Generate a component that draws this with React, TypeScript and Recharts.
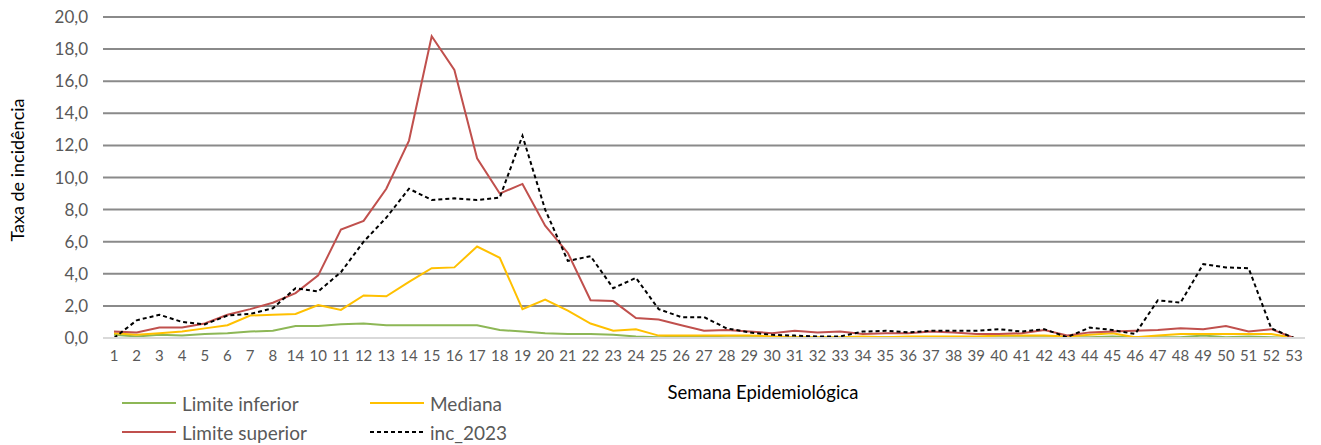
import { CartesianGrid, Line, LineChart, XAxis, YAxis } from "recharts"

// labels exactly as in the source (note the 9th reads "14")
const weekLabels = [
  "1", "2", "3", "4", "5", "6", "7", "8", "14", "10", "11", "12", "13", "14", "15", "16", "17", "18",
  "19", "20", "21", "22", "23", "24", "25", "26", "27", "28", "29", "30", "31", "32", "33", "34", "35",
  "36", "37", "38", "39", "40", "41", "42", "43", "44", "45", "46", "47", "48", "49", "50", "51", "52", "53",
]

const limiteInferior = [
  0.2, 0.1, 0.2, 0.15, 0.25, 0.3, 0.4, 0.45, 0.75, 0.75, 0.85, 0.9, 0.8, 0.8, 0.8, 0.8, 0.8, 0.5,
  0.4, 0.3, 0.25, 0.25, 0.2, 0.1, 0.05, 0.1, 0.1, 0.05, 0.05, 0.05, 0.05, 0.05, 0.05, 0.05, 0.05,
  0.05, 0.05, 0.05, 0.05, 0.05, 0.05, 0.05, 0.05, 0.05, 0.1, 0.05, 0.05, 0.05, 0.15, 0.05, 0.1, 0.05, 0,
]

const mediana = [
  0.3, 0.2, 0.3, 0.4, 0.6, 0.8, 1.4, 1.45, 1.5, 2.05, 1.75, 2.65, 2.6, 3.5, 4.35, 4.4, 5.7, 5.0,
  1.8, 2.4, 1.7, 0.9, 0.45, 0.55, 0.15, 0.15, 0.15, 0.15, 0.15, 0.1, 0.05, 0.05, 0.05, 0.1, 0.05,
  0.1, 0.1, 0.1, 0.1, 0.15, 0.15, 0.15, 0.1, 0.2, 0.3, 0.05, 0.15, 0.25, 0.25, 0.25, 0.25, 0.25, 0,
]

const limiteSuperior = [
  0.4, 0.35, 0.65, 0.65, 0.9, 1.45, 1.8, 2.2, 2.8, 3.9, 6.75, 7.3, 9.3, 12.3, 18.8, 16.7, 11.2, 9.0,
  9.6, 7.0, 5.3, 2.35, 2.3, 1.25, 1.15, 0.8, 0.45, 0.5, 0.4, 0.3, 0.45, 0.35, 0.4, 0.25, 0.3,
  0.3, 0.4, 0.35, 0.25, 0.25, 0.3, 0.5, 0.15, 0.35, 0.4, 0.45, 0.5, 0.6, 0.55, 0.75, 0.4, 0.55, 0,
]

const inc2023 = [
  0, 1.1, 1.45, 1.0, 0.85, 1.4, 1.5, 1.85, 3.1, 2.9, 4.1, 6.0, 7.5, 9.3, 8.6, 8.7, 8.6, 8.75,
  12.6, 8.0, 4.8, 5.1, 3.1, 3.75, 1.8, 1.3, 1.3, 0.6, 0.35, 0.2, 0.15, 0.1, 0.1, 0.4, 0.45,
  0.35, 0.45, 0.45, 0.45, 0.55, 0.4, 0.55, 0.05, 0.65, 0.5, 0.25, 2.35, 2.2, 4.6, 4.4, 4.35, 0.6, 0,
]

const yTicks = [0, 2, 4, 6, 8, 10, 12, 14, 16, 18, 20]

const data = weekLabels.map((_, i) => ({
  i,
  inf: limiteInferior[i],
  med: mediana[i],
  sup: limiteSuperior[i],
  inc: inc2023[i],
}))

const FONT = "Lato, 'Open Sans', sans-serif"

const legendItems = [
  { name: "Limite inferior", color: "#8db756", dash: "", left: 122, top: 403 },
  { name: "Mediana", color: "#ffc000", dash: "", left: 370, top: 403 },
  { name: "Limite superior", color: "#c0504d", dash: "", left: 122, top: 432 },
  { name: "inc_2023", color: "#000000", dash: "4 3", left: 370, top: 432 },
]

export default function App() {
  return (
    <div style={{ position: "absolute", left: 0, top: 0, width: 1321, height: 445, fontFamily: FONT, background: "#fff" }}>
      <LineChart width={1321} height={445} data={data} margin={{ top: 17, right: 16, bottom: 0, left: 0 }}>
        <CartesianGrid vertical={false} stroke="#8a8a8a" strokeWidth={2} />
        <XAxis
          dataKey="i"
          interval={0}
          height={107}
          padding={{ left: 11, right: 11 }}
          tickLine={false}
          tickSize={0}
          tickMargin={12}
          axisLine={{ stroke: "#d9d9d9", strokeWidth: 2 }}
          tick={{ fill: "#595959", fontSize: 15, fontFamily: FONT }}
          tickFormatter={(v) => weekLabels[v]}
          label={(props: any) => {
            const vb = props.viewBox
            return (
              <text x={vb.x + vb.width / 2 + 59} y={vb.y + 61} textAnchor="middle" fill="#000" fontSize={18.5} fontFamily={FONT}>
                Semana Epidemiológica
              </text>
            )
          }}
        />
        <YAxis
          width={103}
          domain={[0, 20]}
          ticks={yTicks}
          axisLine={false}
          tickLine={false}
          tickSize={0}
          tickMargin={15}
          tick={{ fill: "#595959", fontSize: 17, fontFamily: FONT }}
          tickFormatter={(v) => v.toFixed(1).replace(".", ",")}
          label={() => (
            <text x={24} y={170} transform="rotate(-90 24 170)" textAnchor="middle" fill="#000" fontSize={18} fontFamily={FONT}>
              Taxa de incidência
            </text>
          )}
        />
        <Line dataKey="inf" stroke="#8db756" strokeWidth={2} dot={false} isAnimationActive={false} />
        <Line dataKey="med" stroke="#ffc000" strokeWidth={2} dot={false} isAnimationActive={false} />
        <Line dataKey="sup" stroke="#c0504d" strokeWidth={2} dot={false} isAnimationActive={false} />
        <Line dataKey="inc" stroke="#000000" strokeWidth={2} strokeDasharray="4 3" dot={false} isAnimationActive={false} />
      </LineChart>
      {legendItems.map((it) => (
        <div key={it.name} style={{ position: "absolute", left: it.left, top: it.top - 13, height: 26, display: "flex", alignItems: "center" }}>
          <svg width={54} height={4}>
            <line x1={0} y1={2} x2={54} y2={2} stroke={it.color} strokeWidth={2} strokeDasharray={it.dash} />
          </svg>
          <span style={{ marginLeft: 6, fontSize: 19, color: "#595959" }}>{it.name}</span>
        </div>
      ))}
    </div>
  )
}
